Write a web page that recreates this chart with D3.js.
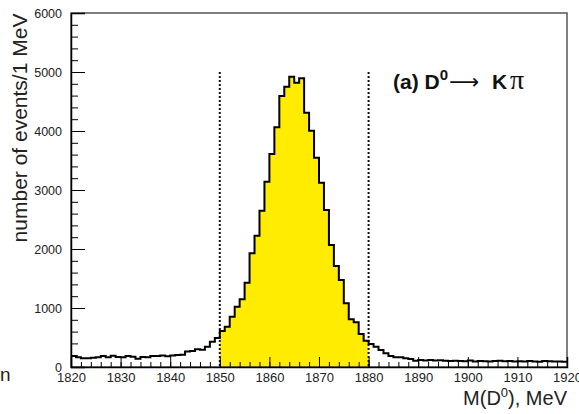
<!DOCTYPE html>
<html>
<head>
<meta charset="utf-8">
<script src="https://cdn.jsdelivr.net/npm/d3@7"></script>
<style>
  body { margin: 0; background: #ffffff; }
  svg { display: block; font-family: "Liberation Sans", Arial, sans-serif; }
</style>
</head>
<body>
<div id="chart"></div>
<script>
// Histogram M(D0), 1 MeV bins from 1820 to 1920
const binStart = 1820;
const binWidth = 1;
const counts = [
    186, 164, 150, 150, 158, 164, 186, 164, 192, 169,
    164, 186, 175, 141, 169, 164, 186, 186, 197, 181,
    197, 203, 209, 262, 272, 300, 292, 345, 430, 490,
    610, 683, 853, 1022, 1147, 1429, 1927, 2226, 2650, 3141,
    3610, 4062, 4593, 4751, 4921, 4819, 4893, 4311, 4006, 3548,
    3124, 2661, 2068, 1712, 1475, 1080, 808, 757, 560, 445,
    390, 344, 288, 232, 186, 164, 164, 147, 135, 107,
    118, 112, 118, 110, 115, 105, 100, 105, 100, 98,
    110, 95, 100, 98, 92, 102, 108, 96, 100, 92,
    98, 95, 102, 95, 90, 100, 98, 92, 95, 88
];
// signal window (yellow) and dotted markers
const signalRange = [1850, 1880];
const markerTop = 5000;
const xDomain = [1820, 1920];
const yDomain = [0, 6000];
const xTicks = [1820, 1830, 1840, 1850, 1860, 1870, 1880, 1890, 1900, 1910, 1920];
const yTicks = [0, 1000, 2000, 3000, 4000, 5000, 6000];

const width = 579;
const height = 414;
const margin = { top: 13, right: 12, bottom: 47, left: 71 };

const svg = d3.select("#chart").append("svg")
    .attr("width", width)
    .attr("height", height);

const x = d3.scaleLinear()
    .domain(xDomain)
    .range([margin.left, width - margin.right]);

const y = d3.scaleLinear()
    .domain(yDomain)
    .range([height - margin.bottom, margin.top]);

const bins = counts.map((c, i) => ({ lo: binStart + i * binWidth, c: c }));
// extra point so the last step reaches the right edge
const steps = bins.concat([{ lo: binStart + counts.length * binWidth, c: counts[counts.length - 1] }]);

// Yellow fill in the signal window
const sig = steps.filter(d => d.lo >= signalRange[0] && d.lo <= signalRange[1]);
sig[sig.length - 1] = { lo: signalRange[1], c: sig[sig.length - 2].c };

svg.append("path")
    .datum(sig)
    .attr("fill", "#ffec00")
    .attr("stroke", "none")
    .attr("d", d3.area()
        .curve(d3.curveStepAfter)
        .x(d => x(d.lo))
        .y0(y(0))
        .y1(d => y(d.c)));

// Frame
svg.append("rect")
    .attr("x", x(xDomain[0]))
    .attr("y", y(yDomain[1]))
    .attr("width", x(xDomain[1]) - x(xDomain[0]))
    .attr("height", y(0) - y(yDomain[1]))
    .attr("fill", "none")
    .attr("stroke", "#555")
    .attr("stroke-width", 1.5);

// Dotted markers
svg.selectAll(".marker")
    .data(signalRange)
    .enter()
    .append("line")
    .attr("x1", d => x(d))
    .attr("x2", d => x(d))
    .attr("y1", y(markerTop))
    .attr("y2", y(0))
    .attr("stroke", "#111")
    .attr("stroke-width", 2)
    .attr("stroke-dasharray", "2,2");

// Histogram outline
svg.append("path")
    .datum(steps)
    .attr("fill", "none")
    .attr("stroke", "#000")
    .attr("stroke-width", 2)
    .attr("d", d3.line()
        .curve(d3.curveStepAfter)
        .x(d => x(d.lo))
        .y(d => y(d.c)));

// X axis (ticks pointing inward)
const xMinor = svg.append("g")
    .attr("transform", `translate(0,${y(0)})`)
    .call(d3.axisBottom(x).ticks(50).tickSize(-5).tickFormat(""));
xMinor.select(".domain").remove();

const xAxis = svg.append("g")
    .attr("transform", `translate(0,${y(0)})`)
    .call(d3.axisBottom(x).tickValues(xTicks).tickSize(-10).tickPadding(6).tickFormat(d3.format("d")));
xAxis.select(".domain").attr("stroke-width", 1.5);
xAxis.selectAll("text")
    .style("font-size", "13px")
    .attr("fill", "#222");

// Y axis
const yMinor = svg.append("g")
    .attr("transform", `translate(${x(xDomain[0])},0)`)
    .call(d3.axisLeft(y).ticks(30).tickSize(-7).tickFormat(""));
yMinor.select(".domain").remove();

const yAxis = svg.append("g")
    .attr("transform", `translate(${x(xDomain[0])},0)`)
    .call(d3.axisLeft(y).tickValues(yTicks).tickSize(-14).tickPadding(9).tickFormat(d3.format("d")));
yAxis.select(".domain").attr("stroke-width", 1.5);
yAxis.selectAll("text")
    .style("font-size", "12.5px")
    .attr("fill", "#222");

// Axis titles
svg.append("text")
    .attr("transform", "translate(27,128) rotate(-90)")
    .attr("text-anchor", "middle")
    .style("font-size", "21px")
    .attr("fill", "#222")
    .text("number of events/1 MeV");

const xt = svg.append("text")
    .attr("x", x(xDomain[1]))
    .attr("y", 405)
    .attr("text-anchor", "end")
    .style("font-size", "20px")
    .attr("fill", "#222");
xt.append("tspan").text("M(D");
xt.append("tspan").attr("dy", -8).style("font-size", "13px").text("0");
xt.append("tspan").attr("dy", 8).text("), MeV");

// Label (a) D0 -> K pi
const title = svg.append("text")
    .attr("x", 393)
    .attr("y", 89)
    .style("font-size", "21px")
    .attr("fill", "#111");
title.append("tspan").style("font-weight", "bold").text("(a) D");
title.append("tspan").attr("dy", -9).style("font-weight", "bold").style("font-size", "15px").text("0");
title.append("tspan").attr("x", 449).attr("dy", 9)
    .style("font-family", "'DejaVu Sans', sans-serif")
    .style("font-size", "21px")
    .text("\u27f6");
title.append("tspan").attr("x", 492).style("font-weight", "bold").text("K");
title.append("tspan").attr("x", 510)
    .style("font-family", "'Liberation Serif', 'DejaVu Serif', serif")
    .style("font-size", "28px")
    .text("\u03c0");

// cut-off fragment at the left edge
svg.append("text")
    .attr("x", 0)
    .attr("y", 381)
    .style("font-size", "19px")
    .attr("fill", "#222")
    .text("n");
</script>
</body>
</html>
